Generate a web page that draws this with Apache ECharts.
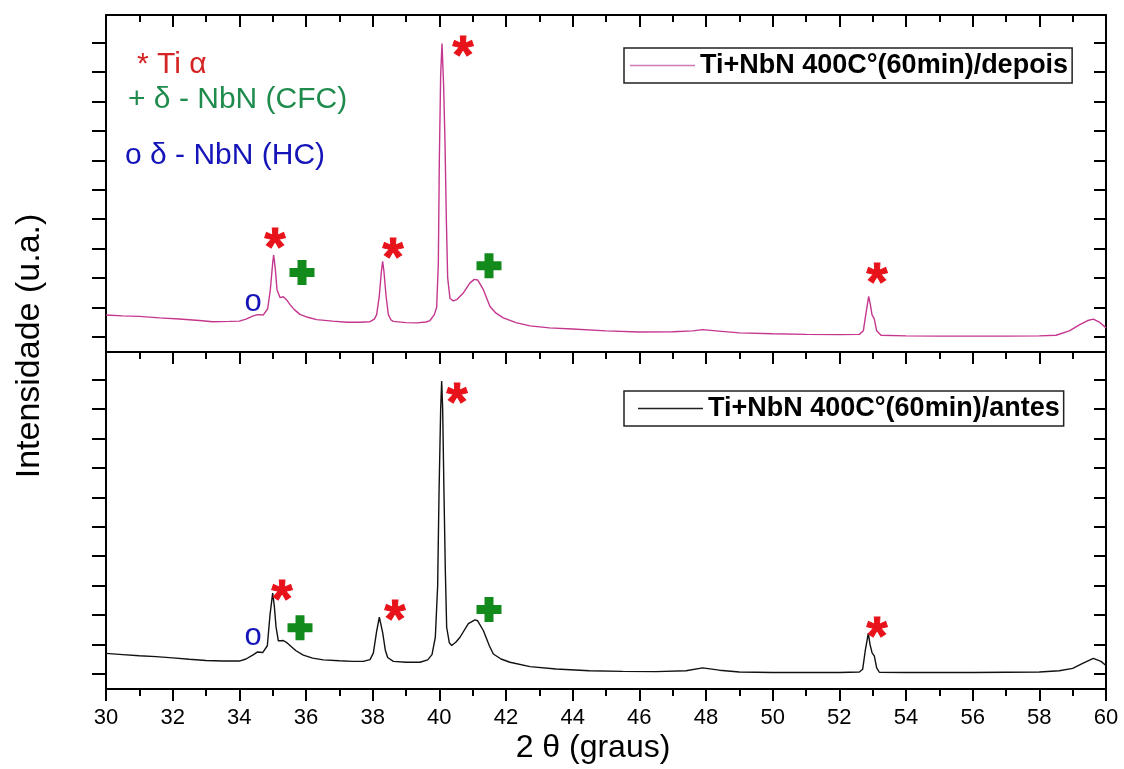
<!DOCTYPE html>
<html>
<head>
<meta charset="utf-8">
<script src="https://cdn.jsdelivr.net/npm/echarts@6/dist/echarts.min.js"></script>
<style>
  html, body { margin: 0; padding: 0; background: #fff; }
  #chart { width: 1124px; height: 769px; }
</style>
</head>
<body>
<div id="chart"></div>
<script>
// 2-theta (degrees) and intensity (arbitrary units)
const depoisX = [30.0, 30.5, 31.0, 31.6, 32.2, 32.8, 33.2, 33.7, 34.0, 34.2, 34.4, 34.55, 34.72, 34.85, 34.93, 35.0, 35.03, 35.08, 35.13, 35.22,
  35.32, 35.42, 35.52, 35.65, 35.82, 36.05, 36.32, 36.8, 37.22, 37.6, 37.92, 38.05, 38.12, 38.2, 38.26, 38.3, 38.34, 38.4, 38.47, 38.55,
  38.62, 39.0, 39.32, 39.6, 39.72, 39.85, 39.92, 39.97, 40.0, 40.04, 40.08, 40.13, 40.17, 40.21, 40.25, 40.32, 40.42, 40.52, 40.72, 40.92,
  41.05, 41.15, 41.32, 41.52, 41.7, 41.92, 42.3, 42.72, 43.3, 44.0, 45.0, 46.0, 47.0, 47.6, 47.9, 48.3, 49.0, 50.0, 51.0, 52.0,
  52.6, 52.72, 52.8, 52.88, 52.93, 52.98, 53.05, 53.12, 53.25, 54.0, 55.0, 56.0, 57.0, 58.0, 58.5, 58.9, 59.2, 59.45, 59.62, 59.8, 60.0];
const depoisY = [0.74, 0.71, 0.69, 0.64, 0.60, 0.55, 0.51, 0.52, 0.53, 0.60, 0.70, 0.75, 0.74, 0.95, 1.6, 2.5, 2.78, 2.3, 1.6, 1.33,
  1.36, 1.25, 1.09, 0.92, 0.76, 0.66, 0.58, 0.53, 0.49, 0.49, 0.51, 0.6, 0.75, 1.4, 2.2, 2.56, 2.2, 1.4, 0.75, 0.57,
  0.52, 0.48, 0.47, 0.5, 0.55, 0.75, 1.0, 2.5, 6.0, 8.9, 9.97, 8.5, 6.6, 4.0, 2.0, 1.3, 1.22, 1.26, 1.49, 1.83,
  1.95, 1.93, 1.6, 1.03, 0.8, 0.64, 0.48, 0.37, 0.3, 0.26, 0.2, 0.16, 0.17, 0.2, 0.24, 0.2, 0.13, 0.1, 0.08, 0.07,
  0.08, 0.2, 0.8, 1.37, 1.1, 0.75, 0.6, 0.2, 0.05, 0.03, 0.02, 0.02, 0.02, 0.03, 0.05, 0.2, 0.4, 0.55, 0.6, 0.5, 0.3];

const antesX = [30.0, 30.5, 31.0, 31.5, 32.0, 32.5, 33.0, 33.5, 34.0, 34.2, 34.4, 34.55, 34.7, 34.84, 34.92, 35.0, 35.05, 35.1, 35.17, 35.25,
  35.32, 35.42, 35.52, 35.7, 35.92, 36.2, 36.52, 37.0, 37.4, 37.72, 37.92, 38.02, 38.12, 38.2, 38.24, 38.3, 38.38, 38.45, 38.62, 39.0,
  39.42, 39.65, 39.78, 39.88, 39.95, 39.99, 40.04, 40.07, 40.1, 40.14, 40.18, 40.22, 40.3, 40.37, 40.5, 40.62, 40.87, 41.07, 41.15, 41.32,
  41.5, 41.62, 41.85, 42.12, 42.72, 43.5, 44.5, 45.5, 46.5, 47.4, 47.9, 48.4, 49.0, 50.0, 51.0, 52.0, 52.6, 52.7, 52.78, 52.87,
  52.92, 52.98, 53.05, 53.12, 53.2, 54.0, 55.0, 56.0, 57.0, 58.0, 58.6, 59.0, 59.3, 59.62, 59.85, 60.0];
const antesY = [0.69, 0.65, 0.61, 0.58, 0.54, 0.49, 0.45, 0.43, 0.43, 0.5, 0.63, 0.74, 0.72, 0.95, 2.0, 2.74, 2.3, 1.6, 1.12, 1.12,
  1.13, 1.06, 0.96, 0.78, 0.63, 0.53, 0.47, 0.44, 0.42, 0.42, 0.48, 0.7, 1.45, 1.92, 1.92, 1.4, 0.8, 0.55, 0.42, 0.39,
  0.39, 0.47, 0.65, 1.24, 3.0, 6.1, 9.0, 9.95, 9.0, 6.1, 3.5, 1.58, 1.05, 0.96, 1.08, 1.24, 1.7, 1.83, 1.8, 1.47,
  0.95, 0.67, 0.5, 0.39, 0.24, 0.16, 0.1, 0.08, 0.07, 0.1, 0.2, 0.12, 0.06, 0.04, 0.04, 0.04, 0.06, 0.15, 0.8, 1.38,
  1.0, 0.72, 0.6, 0.2, 0.05, 0.04, 0.04, 0.04, 0.05, 0.06, 0.1, 0.18, 0.35, 0.52, 0.42, 0.28];

// phase markers [2theta, intensity]
const tiTop = [[40.71, 9.93], [35.07, 3.4], [38.61, 3.03], [53.13, 2.2]];
const cfcTop = [[35.88, 2.18], [41.49, 2.41]];
const hcTop = [[34.41, 1.16]];
const tiBot = [[40.53, 9.59], [35.28, 2.89], [38.67, 2.21], [53.13, 1.63]];
const cfcBot = [[35.82, 1.56], [41.49, 2.18]];
const hcBot = [[34.41, 1.26]];

const yTicks = [0, 1, 2, 3, 4, 5, 6, 7, 8, 9, 10];
const nomeDepois = 'Ti+NbN 400C°(60min)/depois';
const nomeAntes = 'Ti+NbN 400C°(60min)/antes';

const FONT = '"Liberation Sans", Arial, sans-serif';
const RED = '#e8131a', GREEN = '#138a1c', BLUE = '#1414b8';
const PLUS = 'path://M8,0H17V8H25V17H17V25H8V17H0V8H8Z';

function zip(xs, ys) {
  let out = [];
  for (let i = 0; i < xs.length; i++) out.push([xs[i], ys[i]]);
  return out;
}

function xAx(grid, pos, ticks, inside, labels) {
  return {
    type: 'value', gridIndex: grid, position: pos, min: 30, max: 60, interval: 2,
    axisLine: { show: true, onZero: false, lineStyle: { color: '#000', width: 2 } },
    axisTick: { show: ticks, inside: inside, length: 12, lineStyle: { color: '#000', width: 2 } },
    minorTick: { show: ticks, splitNumber: 2, length: 7, lineStyle: { color: '#000', width: 2 } },
    axisLabel: { show: labels, color: '#000', fontSize: 22, fontFamily: FONT, margin: 18 },
    splitLine: { show: false }
  };
}

function yAx(grid, pos, inside) {
  return {
    type: 'value', gridIndex: grid, position: pos, min: -0.52, max: 10.94,
    axisLine: { show: true, onZero: false, lineStyle: { color: '#000', width: 2 } },
    axisTick: { show: true, inside: inside, length: inside ? 12 : 14, customValues: yTicks, lineStyle: { color: '#000', width: 2 } },
    axisLabel: { show: false },
    splitLine: { show: false }
  };
}

function textMark(data, grid, ch, color, size, bold, dy) {
  return {
    type: 'scatter', xAxisIndex: grid === 0 ? 0 : 3, yAxisIndex: grid === 0 ? 0 : 2,
    data: data, symbolSize: 1, itemStyle: { color: 'rgba(0,0,0,0)', opacity: 1 }, silent: true, z: 5,
    label: { show: true, position: 'inside', formatter: ch, color: color, opacity: 1, fontSize: size,
      fontWeight: bold ? 'bold' : 'normal', fontFamily: FONT, offset: [0, dy],
      textBorderColor: bold ? color : 'transparent', textBorderWidth: bold ? 1 : 0 }
  };
}

function plusMark(data, grid) {
  return {
    type: 'scatter', xAxisIndex: grid === 0 ? 0 : 3, yAxisIndex: grid === 0 ? 0 : 2,
    data: data, symbol: PLUS, symbolSize: 25, itemStyle: { color: GREEN, opacity: 1 }, silent: true, z: 5
  };
}

function legendBox(name, top, padLeft, lineColor) {
  return {
    data: [name], left: 624, top: top, selectedMode: false,
    borderColor: '#222', borderWidth: 1.5, borderRadius: 0,
    padding: [2, 4, 2, padLeft], itemWidth: 65, itemHeight: 1.3, icon: 'rect',
    itemStyle: { color: lineColor },
    textStyle: { fontSize: 27, fontWeight: 'bold', fontFamily: FONT, color: '#000', lineHeight: 31 }
  };
}

let chart = echarts.init(document.getElementById('chart'));
chart.setOption({
  animation: false,
  backgroundColor: '#fff',
  grid: [
    { left: 106, right: 18, top: 15, height: 337 },
    { left: 106, right: 18, top: 352, height: 337 }
  ],
  xAxis: [
    xAx(0, 'bottom', false, false, false),
    xAx(0, 'top', true, true, false),
    xAx(1, 'top', true, true, false),
    xAx(1, 'bottom', true, false, true)
  ],
  yAxis: [
    yAx(0, 'left', false), yAx(0, 'right', true),
    yAx(1, 'left', false), yAx(1, 'right', true)
  ],
  legend: [
    legendBox(nomeDepois, 48, 6, '#cf7ab4'),
    legendBox(nomeAntes, 391, 14, '#222')
  ],
  series: [
    { name: nomeDepois, type: 'line', xAxisIndex: 0, yAxisIndex: 0, data: zip(depoisX, depoisY),
      symbol: 'none', color: '#c4378f', lineStyle: { width: 1.4 } },
    { name: nomeAntes, type: 'line', xAxisIndex: 3, yAxisIndex: 2, data: zip(antesX, antesY),
      symbol: 'none', color: '#111', lineStyle: { width: 1.4 } },
    textMark(tiTop, 0, '*', RED, 54, true, 13),
    textMark(tiBot, 1, '*', RED, 54, true, 13),
    plusMark(cfcTop, 0),
    plusMark(cfcBot, 1),
    textMark(hcTop, 0, 'o', BLUE, 31, false, 0),
    textMark(hcBot, 1, 'o', BLUE, 31, false, 0)
  ],
  graphic: [
    { type: 'text', left: 137, top: 50, style: { text: '* Ti α', fill: '#d42424', font: '30px ' + FONT } },
    { type: 'text', left: 128, top: 85, style: { text: '+ δ - NbN (CFC)', fill: '#1f8c4e', font: '30px ' + FONT } },
    { type: 'text', left: 125, top: 141, style: { text: 'o δ - NbN (HC)', fill: BLUE, font: '30px ' + FONT } },
    { type: 'text', x: 593, y: 748, style: { text: '2 θ (graus)', fill: '#000', font: '32px ' + FONT,
      align: 'center', verticalAlign: 'middle', textAlign: 'center', textVerticalAlign: 'middle' } },
    { type: 'text', x: 30, y: 346, rotation: Math.PI / 2, style: { text: 'Intensidade (u.a.)', fill: '#000', font: '34px ' + FONT,
      align: 'center', verticalAlign: 'middle', textAlign: 'center', textVerticalAlign: 'middle' } }
  ]
});
</script>
</body>
</html>
